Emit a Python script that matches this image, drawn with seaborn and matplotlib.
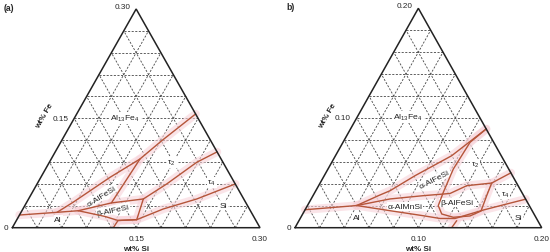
import numpy as np
import matplotlib
matplotlib.use("Agg")
import matplotlib.pyplot as plt
import seaborn as sns

sns.set_style("white")
plt.rcParams["font.family"] = ["Liberation Sans", "DejaVu Sans"]
plt.rcParams["mathtext.default"] = "regular"

H = np.sqrt(3) / 2
RED = "#b5553a"
PINK = "#f8d3da"

# ---- panel (a): full scale 0.30 wt% ----
a_max = 0.30
a_ticks = ["0", "0.15", "0.30"]
a_al_si = [0.000, 0.0436, 0.0683]
a_al_fe = [0.0174, 0.0211, 0.0233]
a_upper_si = [0.0436, 0.0561, 0.0838, 0.1075, 0.1213, 0.144]
a_upper_fe = [0.0211, 0.0348, 0.0691, 0.0942, 0.1193, 0.156]
a_ab_si = [0.0683, 0.103, 0.139]
a_ab_fe = [0.0233, 0.034, 0.0394]
a_alr_si = [0.1075, 0.103]
a_alr_fe = [0.0942, 0.034]
a_mid_si = [0.139, 0.157, 0.1785, 0.196]
a_mid_fe = [0.0394, 0.060, 0.0897, 0.104]
a_betr_si = [0.139, 0.1452]
a_betr_fe = [0.0394, 0.011]
a_betb_si = [0.0683, 0.1046, 0.1231, 0.1452]
a_betb_fe = [0.0233, 0.0154, 0.0099, 0.011]
a_si_si = [0.1223, 0.1231, 0.1452, 0.170, 0.2037, 0.240]
a_si_fe = [0.0, 0.0099, 0.011, 0.0257, 0.0394, 0.060]

# ---- panel (b): full scale 0.20 wt% ----
b_max = 0.20
b_ticks = ["0", "0.10", "0.20"]
b_al_si = [0.000, 0.0399]
b_al_fe = [0.0164, 0.0202]
b_upper_si = [0.0399, 0.053, 0.0602, 0.0736, 0.0942, 0.110]
b_upper_fe = [0.0202, 0.0292, 0.0337, 0.0474, 0.0656, 0.090]
b_mid_si = [0.0399, 0.0639, 0.0894, 0.1101, 0.1201, 0.1391, 0.150]
b_mid_fe = [0.0202, 0.0262, 0.0292, 0.0312, 0.0383, 0.0407, 0.050]
b_low_si = [0.0399, 0.0693, 0.0986, 0.1134, 0.1255, 0.1356, 0.1446, 0.1608, 0.174]
b_low_fe = [0.0202, 0.0155, 0.0109, 0.0084, 0.0084, 0.0125, 0.0161, 0.0216, 0.026]
b_loop_si = [0.110, 0.103, 0.1016, 0.1041, 0.1061, 0.1127, 0.1236, 0.1365, 0.1432, 0.1408, 0.1391]
b_loop_fe = [0.090, 0.0778, 0.0535, 0.0323, 0.0201, 0.0125, 0.0095, 0.0107, 0.0152, 0.0292, 0.0407]
b_stub_si = [0.127, 0.1279]
b_stub_fe = [0.0, 0.0064]

# phase labels: (text, si, fe, rotation)
a_labels = [(r"Al$_{13}$Fe$_4$", 0.0613, 0.1505, 0), ("τ$_2$", 0.148, 0.0897, 0),
            ("τ$_4$", 0.2104, 0.0623, 0), ("Si", 0.2405, 0.0302, 0),
            ("α-AlFeSi", 0.0863, 0.0439, 32), ("β-AlFeSi", 0.110, 0.0247, 12),
            ("Al", 0.0502, 0.011, 0)]
b_labels = [(r"Al$_{13}$Fe$_4$", 0.0415, 0.1006, 0), ("α-AlFeSi", 0.0913, 0.0444, 27),
            ("α-AlMnSi", 0.0794, 0.0195, 0), ("β-AlFeSi", 0.1195, 0.0232, 0),
            ("τ$_2$", 0.1169, 0.0581, 0), ("τ$_4$", 0.1549, 0.0307, 0),
            ("Si", 0.1763, 0.0095, 0), ("Al", 0.0453, 0.0095, 0)]


def to_xy(si, fe, m):
    s = np.asarray(si) / m
    f = np.asarray(fe) / m
    return s + f / 2, f * H


def draw_panel(ax, m, curves, labels, ticks, tag):
    ax.set_xlim(0, 1)
    ax.set_ylim(0, H)
    ax.set_axis_off()
    # dashed grid, 10 divisions in each direction
    for k in range(1, 10):
        t = k / 10
        kw = dict(color="#444444", lw=0.6, ls=(0, (2.5, 1.8)), zorder=1)
        ax.plot([t / 2, 1 - t / 2], [t * H, t * H], **kw)
        ax.plot([t, t + (1 - t) / 2], [0, (1 - t) * H], **kw)
        ax.plot([t, t / 2], [0, t * H], **kw)
    ax.plot([0, 1, 0.5, 0], [0, 0, H, 0], color="#222222", lw=1.1, zorder=5,
            clip_on=False, solid_joinstyle="miter")
    for si, fe in curves:
        x, y = to_xy(si, fe, m)
        sns.lineplot(x=x, y=y, sort=False, estimator=None, ax=ax, color=PINK,
                     lw=6, alpha=0.6, zorder=2, solid_capstyle="round")
    for si, fe in curves:
        x, y = to_xy(si, fe, m)
        sns.lineplot(x=x, y=y, sort=False, estimator=None, ax=ax, color=RED,
                     lw=1.0, zorder=4)
    for txt, si, fe, rot in labels:
        x, y = to_xy(si, fe, m)
        ax.text(x, y, txt, fontsize=6.1, ha="center", va="center", rotation=rot,
                color="#222222", zorder=3,
                bbox=dict(boxstyle="square,pad=0.1", fc="white", ec="none"))
    fs = 5.9
    ax.annotate(ticks[0], (0, 0), xytext=(-3, 0), textcoords="offset points",
                ha="right", va="center", fontsize=fs, annotation_clip=False)
    ax.annotate(ticks[1], (0.5, 0), xytext=(0, -5), textcoords="offset points",
                ha="center", va="top", fontsize=fs, annotation_clip=False)
    ax.annotate(ticks[2], (1, 0), xytext=(0, -5), textcoords="offset points",
                ha="center", va="top", fontsize=fs, annotation_clip=False)
    ax.annotate(ticks[1], (0.25, H / 2), xytext=(-4, 0), textcoords="offset points",
                ha="right", va="center", fontsize=fs, annotation_clip=False)
    ax.annotate(ticks[2], (0.5, H), xytext=(-4, 2), textcoords="offset points",
                ha="right", va="center", fontsize=fs, annotation_clip=False)
    ax.annotate("wt% Si", (0.5, 0), xytext=(0, -12.5), textcoords="offset points",
                ha="center", va="top", fontsize=5.8, fontweight="bold",
                annotation_clip=False)
    ax.annotate("wt% Fe", (0.25, H / 2), xytext=(-21, 2), textcoords="offset points",
                ha="center", va="center", fontsize=5.8, fontweight="bold",
                rotation=60, annotation_clip=False)
    ax.annotate(tag, (0, H), xytext=(-6, 1), textcoords="offset points",
                ha="left", va="center", fontsize=6.2, fontweight="bold",
                annotation_clip=False)


fig = plt.figure(figsize=(5.5, 2.53), dpi=100)
ax1 = fig.add_axes([12.3 / 550, 24.3 / 253, 247.7 / 550, 218.7 / 253])
ax2 = fig.add_axes([295 / 550, 24.3 / 253, 246.7 / 550, 219.4 / 253])

a_curves = [(a_al_si, a_al_fe), (a_upper_si, a_upper_fe), (a_ab_si, a_ab_fe),
            (a_alr_si, a_alr_fe), (a_mid_si, a_mid_fe), (a_betr_si, a_betr_fe),
            (a_betb_si, a_betb_fe), (a_si_si, a_si_fe)]
b_curves = [(b_al_si, b_al_fe), (b_upper_si, b_upper_fe), (b_mid_si, b_mid_fe),
            (b_low_si, b_low_fe), (b_loop_si, b_loop_fe), (b_stub_si, b_stub_fe)]

draw_panel(ax1, a_max, a_curves, a_labels, a_ticks, "(a)")
draw_panel(ax2, b_max, b_curves, b_labels, b_ticks, "b)")

fig.savefig("out.png", dpi=100)
